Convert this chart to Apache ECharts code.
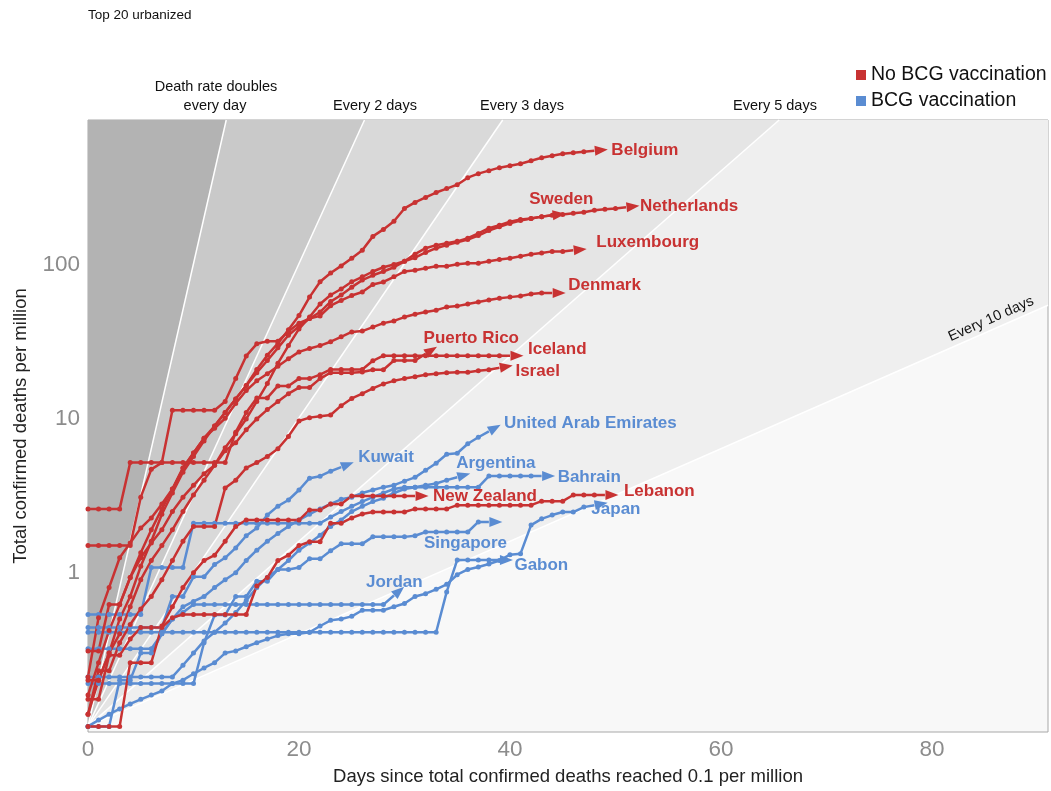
<!DOCTYPE html>
<html><head><meta charset="utf-8">
<script src="https://cdn.jsdelivr.net/npm/echarts@6/dist/echarts.min.js"></script>
<style>html,body{margin:0;padding:0;background:#fff}#c{width:1051px;height:791px}</style>
</head><body><div id="c"></div>
<script>
// ---------- data (values per day, starting at day 0) ----------
const belgium = [0.16,0.26,0.42,0.62,0.93,1.35,1.9,2.6,3.5,4.8,6.0,7.5,9.0,11,13.5,16.5,21,26,31,38,47,62,78,89,99,111,125,154,171,193,234,256,276,297,315,334,371,394,412,431,444,457,478,500,515,531,538,547,555];
const netherlands = [0.12,0.2,0.3,0.5,0.7,1.1,1.6,2.4,3.3,4.5,5.7,7.2,9,11,13.5,16.5,20,24,29,35,40,45,49.6,58,64,72,80,86,91,97,106,118,129,135,139,143,150,161,174,182,192,198,201,207,211,214,218,221,228,231,234,238];
const sweden = [0.2,0.2,0.3,0.4,0.6,0.9,1.2,1.5,1.9,2.5,3.2,4.0,5,6.5,8,10,13,17,23,30,38.5,46,56,64,70,78,84,91,97,101,106,112,121,129,135,141,147,156,168,178,187,195,201,207,211];
const luxembourg = [1.5,1.5,1.5,1.5,1.5,3.1,4.7,5.2,11.4,11.4,11.4,11.4,11.4,13,18.3,25.7,30.8,32,32,37,42,45,46.8,54.5,59,63.5,67,75,77.8,84,91,92.8,95.6,98.5,98.5,101.5,103,103,106,109,111,114.5,118,120,123,123,125];
const denmark = [0.21,0.51,0.8,1.25,1.56,1.95,2.27,2.8,3.5,4.8,6,7.5,8.7,10.1,12.6,15.3,17.7,19.7,22,24.6,27.3,28.7,30,31.8,34.2,36.8,37.3,39.6,42,43.4,46,48,49.6,51,53.4,54.2,56,57.7,59.4,61,62,63,65,66,66];
const puertoRico = [0.31,0.31,0.62,0.62,0.93,1.25,1.56,1.9,2.5,3.1,3.7,4.4,5,6.2,7,8.5,10,11.5,13,14.6,16,16,18.3,20,20,20,20.2,20.9,20.9,24,24,24,26.5];
const iceland = [2.6,2.6,2.6,2.6,5.2,5.2,5.2,5.2,5.2,5.2,5.2,5.2,5.2,5.2,8.2,11,13.7,13.7,16.4,16.4,18.3,18.3,19.4,21,21,21,21,23.9,25.8,25.8,25.8,25.8,25.8,25.8,25.8,25.8,25.8,25.8,25.8,25.8,25.8];
const israel = [0.12,0.23,0.23,0.35,0.46,0.58,0.7,0.9,1.2,1.6,2.0,2.0,2.0,3.55,4,4.8,5.2,5.7,6.4,7.7,9.7,10.2,10.4,10.6,12.2,13.6,14.6,15.8,16.9,17.7,18.3,18.8,19.4,19.7,20,20.1,20.1,20.6,20.9,21.5];
const newZealand = [0.1,0.1,0.1,0.1,0.26,0.26,0.26,0.45,0.6,0.8,1.0,1.2,1.3,1.6,2.0,2.2,2.2,2.2,2.2,2.2,2.2,2.56,2.56,2.8,2.8,3.15,3.15,3.15,3.15,3.15,3.15,3.15];
const lebanon = [0.15,0.15,0.29,0.29,0.37,0.44,0.44,0.44,0.51,0.535,0.535,0.535,0.535,0.535,0.535,0.535,0.82,0.93,1.2,1.3,1.5,1.59,1.59,2.1,2.1,2.27,2.41,2.48,2.48,2.48,2.48,2.6,2.6,2.6,2.6,2.75,2.75,2.75,2.75,2.75,2.75,2.75,2.75,2.92,2.92,2.92,3.2,3.2,3.2,3.2];

const uae = [0.32,0.32,0.32,0.32,0.32,0.32,0.32,0.4,0.5,0.6,0.65,0.7,0.8,0.9,1.0,1.2,1.4,1.6,1.8,2.0,2.2,2.4,2.6,2.8,3.0,3.1,3.3,3.45,3.6,3.71,3.94,4.17,4.64,5.15,5.9,5.98,6.9,7.6,8.3];
const kuwait = [0.44,0.44,0.44,0.44,0.44,0.44,0.44,0.44,0.7,0.7,0.94,0.94,1.13,1.25,1.45,1.74,1.95,2.37,2.71,2.97,3.45,4.12,4.24,4.57,4.86];
const argentina = [0.21,0.21,0.21,0.21,0.21,0.21,0.21,0.21,0.21,0.25,0.3,0.36,0.41,0.47,0.55,0.66,0.8,0.93,1.05,1.2,1.4,1.56,1.75,2.0,2.2,2.5,2.7,2.9,3.05,3.3,3.5,3.6,3.7,3.8,4.0,4.18];
const bahrain = [0.535,0.535,0.535,0.535,0.535,0.535,1.08,1.08,1.08,1.08,2.1,2.1,2.1,2.1,2.1,2.1,2.1,2.1,2.1,2.1,2.1,2.1,2.1,2.3,2.5,2.7,2.9,3.1,3.3,3.5,3.6,3.6,3.6,3.6,3.6,3.6,3.6,3.6,4.25,4.25,4.25,4.25,4.25,4.25];
const japan = [0.1,0.11,0.12,0.13,0.14,0.15,0.16,0.17,0.19,0.2,0.22,0.24,0.26,0.3,0.31,0.33,0.35,0.37,0.39,0.4,0.4,0.41,0.45,0.49,0.5,0.52,0.57,0.57,0.57,0.6,0.63,0.7,0.73,0.78,0.84,0.97,1.05,1.09,1.14,1.2,1.31,1.33,2.04,2.24,2.37,2.48,2.48,2.67,2.75];
const singapore = [0.19,0.19,0.19,0.19,0.19,0.19,0.19,0.19,0.19,0.19,0.19,0.35,0.53,0.53,0.7,0.7,0.88,0.88,1.05,1.05,1.08,1.23,1.23,1.39,1.54,1.54,1.54,1.71,1.71,1.71,1.71,1.74,1.84,1.84,1.84,1.84,1.84,2.14,2.14];
const gabon = [0.41,0.41,0.41,0.41,0.41,0.41,0.41,0.41,0.41,0.41,0.41,0.41,0.41,0.41,0.41,0.41,0.41,0.41,0.41,0.41,0.41,0.41,0.41,0.41,0.41,0.41,0.41,0.41,0.41,0.41,0.41,0.41,0.41,0.41,0.75,1.21,1.21,1.21,1.21,1.21];
const jordan = [0.1,0.1,0.1,0.2,0.2,0.3,0.3,0.4,0.5,0.55,0.62,0.62,0.62,0.62,0.62,0.62,0.62,0.62,0.62,0.62,0.62,0.62,0.62,0.62,0.62,0.62,0.62,0.62,0.62,0.71];

const noBcgNames = ['Belgium','Netherlands','Sweden','Luxembourg','Denmark','Puerto Rico','Iceland','Israel','New Zealand','Lebanon'];
const noBcgValues = [belgium, netherlands, sweden, luxembourg, denmark, puertoRico, iceland, israel, newZealand, lebanon];
const bcgNames = ['United Arab Emirates','Kuwait','Argentina','Bahrain','Japan','Singapore','Gabon','Jordan'];
const bcgValues = [uae, kuwait, argentina, bahrain, japan, singapore, gabon, jordan];

const doublingDays = [10, 5, 3, 2, 1];
const doublingStart = 0.1;
const xTicks = [0, 20, 40, 60, 80];
const yTicks = [1, 10, 100];
const X_MIN = 0, X_MAX = 91, Y_MIN = 0.092, Y_MAX = 880;

// ---------- styles ----------
const RED = '#c83232', BLUE = '#5a8cd2';
const FONT = "'Liberation Sans', Arial, Helvetica, sans-serif";
const bandColors = ['#efefef', '#e5e5e5', '#d9d9d9', '#c9c9c9', '#b3b3b3'];
const labelOffsets = {
  'Belgium':[17,0], 'Netherlands':[14,-1], 'Sweden':[-23,-16], 'Luxembourg':[23,-8], 'Denmark':[16,-8],
  'Puerto Rico':[-2,-16], 'Iceland':[18,-6], 'Israel':[16,3], 'New Zealand':[18,0], 'Lebanon':[19,-4],
  'United Arab Emirates':[15,-8], 'Kuwait':[17,-10], 'Argentina':[-1,-14], 'Bahrain':[16,1], 'Japan':[-3,4],
  'Singapore':[-65,21], 'Gabon':[15,5], 'Jordan':[-28,-13]
};

const chart = echarts.init(document.getElementById('c'), null, {renderer:'canvas'});

const bandSeries = {
  type:'custom', silent:true, z:1, animation:false,
  data: doublingDays.map((d,i)=>[1,1,i]),
  renderItem: function(params, api){
    const i = params.dataIndex, d = doublingDays[i];
    const xTop = d*Math.log2(Y_MAX/doublingStart);
    let pts, endPt;
    const p0 = api.coord([0, doublingStart]);
    if (xTop <= X_MAX) {
      endPt = api.coord([xTop, Y_MAX]);
      pts = [p0, endPt, api.coord([0, Y_MAX])];
    } else {
      endPt = api.coord([X_MAX, doublingStart*Math.pow(2, X_MAX/d)]);
      pts = [p0, endPt, api.coord([X_MAX, Y_MAX]), api.coord([0, Y_MAX])];
    }
    return {type:'group', children:[
      {type:'polygon', shape:{points:pts}, style:{fill:bandColors[i]}},
      {type:'line', shape:{x1:p0[0],y1:p0[1],x2:endPt[0],y2:endPt[1]}, style:{stroke:'#ffffff', lineWidth:1.5}}
    ]};
  }
};

function makeSeries(name, vals, color) {
  return {
    type:'line', name: name, z:5, animation:false,
    data: vals.map((v,i)=>[i,v]),
    symbol:'circle', symbolSize:5, showSymbol:true,
    lineStyle:{color:color, width:2.5},
    itemStyle:{color:color},
    emphasis:{disabled:true},
    endLabel:{show:true, formatter:name, color:color, fontSize:17, fontWeight:'bold', fontFamily:FONT,
      distance:0, offset:labelOffsets[name], align:'left', verticalAlign:'middle'}
  };
}

const lineSeries = [];
bcgNames.forEach((n,i)=>lineSeries.push(makeSeries(n, bcgValues[i], BLUE)));
noBcgNames.forEach((n,i)=>lineSeries.push(makeSeries(n, noBcgValues[i], RED)));

const legendSeries = [
  {type:'line', name:'No BCG vaccination', data:[], itemStyle:{color:RED}, lineStyle:{color:RED}},
  {type:'line', name:'BCG vaccination', data:[], itemStyle:{color:BLUE}, lineStyle:{color:BLUE}}
];

const txt = (text, x, y, extra) => Object.assign({type:'text', x:x, y:y, silent:true, z:10,
  style:Object.assign({text:text, fill:'#111', font:"14.5px "+FONT, align:'center', verticalAlign:'middle'}, extra||{})});

const option = {
  animation:false,
  backgroundColor:'#ffffff',
  grid:{left:88, right:3, top:120, bottom:56, show:true, backgroundColor:'#f8f8f8', borderColor:'#a8a8a8', borderWidth:1},
  legend:{data:[{name:'No BCG vaccination', icon:'rect'},{name:'BCG vaccination', icon:'rect'}],
    orient:'vertical', left:851, top:60, itemWidth:10, itemHeight:10, itemGap:6, selectedMode:false,
    textStyle:{fontSize:19.5, color:'#111', fontFamily:FONT}},
  xAxis:{type:'value', min:X_MIN, max:X_MAX, interval:20,
    axisLine:{show:false}, axisTick:{show:false}, splitLine:{show:false},
    axisLabel:{color:'#8c8c8c', fontSize:22.5, fontFamily:FONT, margin:6, showMaxLabel:false,
      formatter:v=>xTicks.indexOf(Math.round(v))>=0 && Math.abs(v-Math.round(v))<1e-6 ? String(Math.round(v)) : ''},
    name:'Days since total confirmed deaths reached 0.1 per million', nameLocation:'middle', nameGap:35,
    nameTextStyle:{fontSize:18.5, color:'#222', fontFamily:FONT}},
  yAxis:{type:'log', logBase:10, min:Y_MIN, max:Y_MAX,
    axisLine:{show:false}, axisTick:{show:false}, splitLine:{show:false}, minorTick:{show:false},
    axisLabel:{color:'#8c8c8c', fontSize:22.5, fontFamily:FONT, margin:8, showMinLabel:false, showMaxLabel:false,
      formatter:v=>{ for (const t of yTicks) if (Math.abs(v-t)/t<1e-6) return String(t); return ''; }},
    name:'Total confirmed deaths per million', nameLocation:'middle', nameGap:58,
    nameTextStyle:{fontSize:18.5, color:'#222', fontFamily:FONT}},
  graphic:[
    txt('Top 20 urbanized', 88, 15, {align:'left', font:"13.5px "+FONT}),
    txt('Death rate doubles', 216, 87),
    txt('every day', 215, 106),
    txt('Every 2 days', 375, 106),
    txt('Every 3 days', 522, 106),
    txt('Every 5 days', 775, 106),
    txt('Every 10 days', 991, 319, {}),
  ],
  series:[bandSeries].concat(legendSeries, lineSeries)
};
option.graphic[6].rotation = 24*Math.PI/180;

chart.setOption(option);

// arrow heads at the end of each line, oriented along the last segment
const newSeries = option.series.map((s)=>{
  if (s.type !== 'line' || !s.data.length) return {};
  const n = s.data.length;
  const a = chart.convertToPixel({gridIndex:0}, s.data[n-2]);
  const b = chart.convertToPixel({gridIndex:0}, s.data[n-1]);
  const ang = Math.atan2(-(b[1]-a[1]), b[0]-a[0]);
  const deg = ang*180/Math.PI;
  const data = s.data.slice();
  data[n-1] = {value:s.data[n-1], symbol:'triangle', symbolSize:[10,13], symbolRotate:deg-90,
    symbolOffset:[Math.cos(ang)*7, -Math.sin(ang)*7]};
  return {data:data};
});
chart.setOption({series:newSeries});
</script>
</body></html>
